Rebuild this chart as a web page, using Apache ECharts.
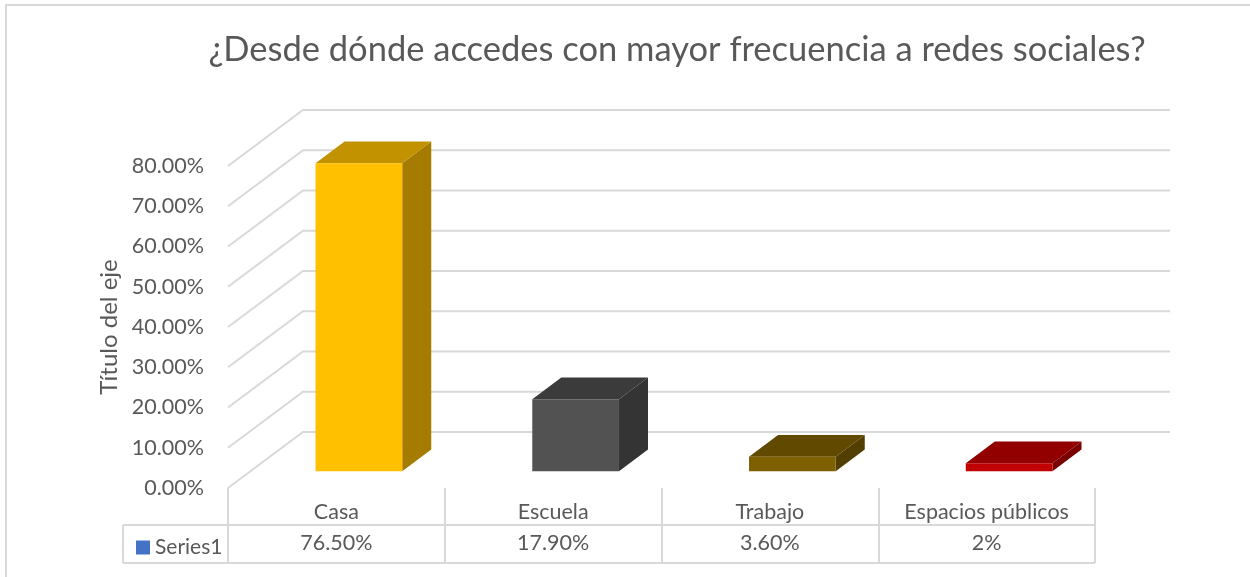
<!DOCTYPE html>
<html>
<head>
<meta charset="utf-8">
<script src="https://cdn.jsdelivr.net/npm/echarts@6/dist/echarts.min.js"></script>
<style>html,body{margin:0;padding:0;background:#fff}#c{width:1250px;height:577px}</style>
</head>
<body>
<div id="c"></div>
<script>
// ---- data ----
const categories = ['Casa', 'Escuela', 'Trabajo', 'Espacios públicos'];
const values = [76.5, 17.9, 3.6, 2];
const valueLabels = ['76.50%', '17.90%', '3.60%', '2%'];
const yTicks = [0, 10, 20, 30, 40, 50, 60, 70, 80];
const seriesName = 'Series1';

// ---- styles ----
const frontColors = ['#FFC000', '#525252', '#7F6000', '#C00000'];
const topColors   = ['#C29200', '#3B3B3B', '#614900', '#920000'];
const sideColors  = ['#A67C00', '#343434', '#523E00', '#7B0000'];
const DX = 75, DY = -56;          // floor depth vector (px)
const F0 = 0.30, F1 = 0.687;      // bar front/back depth fractions
const TXT = '#595959', LINE = '#D9D9D9';
const FONT = 'Lato';
const LBL = 21.5;

const chart = echarts.init(document.getElementById('c'));

const option = {
  animation: false,
  backgroundColor: '#fff',
  textStyle: { fontFamily: FONT },
  title: {
    text: '¿Desde dónde accedes con mayor frecuencia a redes sociales?',
    left: 672, top: 27, textAlign: 'center',
    textStyle: { fontFamily: FONT, fontSize: 34.5, fontWeight: 'normal', color: TXT }
  },
  legend: {
    data: [{ name: seriesName, icon: 'rect', itemStyle: { color: '#4472C4' } }],
    left: 131, top: 532, itemWidth: 14, itemHeight: 14, itemGap: 5,
    textStyle: { fontFamily: FONT, fontSize: 21, color: TXT, padding: [0, 0, 0, 0] },
    selectedMode: false
  },
  grid: { left: 228, right: 155, top: 166, bottom: 89, containLabel: false },
  xAxis: [{
    type: 'category', data: categories, position: 'bottom',
    axisLine: { show: false },
    axisTick: { show: true, length: 75, interval: 0, lineStyle: { color: LINE, width: 2 } },
    axisLabel: { fontFamily: FONT, fontSize: LBL, color: TXT, margin: 13, interval: 0 },
    splitLine: { show: false }
  }, {
    type: 'category', data: valueLabels, position: 'bottom', offset: 37,
    axisLine: { show: false }, axisTick: { show: false },
    axisLabel: { fontFamily: FONT, fontSize: LBL, color: TXT, margin: 7, interval: 0 },
    splitLine: { show: false }
  }],
  yAxis: {
    type: 'value', min: 0, max: 80, interval: 10,
    name: 'Título del eje', nameLocation: 'middle', nameRotate: 90, nameGap: 107,
    nameMoveOverlap: false,
    nameTextStyle: { fontFamily: FONT, fontSize: 24, color: TXT },
    axisLine: { show: false }, axisTick: { show: false }, splitLine: { show: false },
    axisLabel: { fontFamily: FONT, fontSize: LBL, color: TXT, margin: 24,
      formatter: v => v.toFixed(2) + '%' }
  },
  graphic: [
    { type: 'rect', shape: { x: 6, y: 5, width: 1270, height: 620 },
      style: { fill: 'none', stroke: LINE, lineWidth: 2 }, silent: true, z: -10 },
    { type: 'line', shape: { x1: 123, y1: 525, x2: 1095, y2: 525 },
      style: { stroke: LINE, lineWidth: 2 }, silent: true },
    { type: 'line', shape: { x1: 123, y1: 563, x2: 1095, y2: 563 },
      style: { stroke: LINE, lineWidth: 2 }, silent: true },
    { type: 'line', shape: { x1: 123, y1: 525, x2: 123, y2: 563 },
      style: { stroke: LINE, lineWidth: 2 }, silent: true }
  ],
  series: [{
    type: 'custom', name: 'walls', silent: true, z: 1,
    data: yTicks.map(v => [0, v]),
    renderItem: function (params, api) {
      const cs = params.coordSys;
      const y = api.coord([0, api.value(1)])[1];
      const x0 = cs.x, x1 = cs.x + cs.width;
      return {
        type: 'polyline',
        shape: { points: [[x0, y], [x0 + DX, y + DY], [x1 + DX, y + DY]] },
        style: { stroke: LINE, lineWidth: 2, fill: 'none' }
      };
    }
  }, {
    type: 'custom', name: seriesName, z: 2,
    itemStyle: { color: '#4472C4' },
    data: values.map((v, i) => [i, v]),
    renderItem: function (params, api) {
      const i = api.value(0);
      const base = api.coord([i, 0]);
      const top = api.coord([i, api.value(1)]);
      const w = api.size([1, 0])[0] * 0.4;
      const fx = DX * F0, fy = DY * F0, bx = DX * F1, by = DY * F1;
      const L = base[0] - w / 2 + fx, R = base[0] + w / 2 + fx;
      const T = top[1] + fy, B = base[1] + fy;
      const ddx = bx - fx, ddy = by - fy;
      return {
        type: 'group',
        children: [
          { type: 'polygon', shape: { points: [[R, T], [R + ddx, T + ddy], [R + ddx, B + ddy], [R, B]] },
            style: { fill: sideColors[i] } },
          { type: 'polygon', shape: { points: [[L, T], [R, T], [R + ddx, T + ddy], [L + ddx, T + ddy]] },
            style: { fill: topColors[i] } },
          { type: 'rect', shape: { x: L, y: T, width: R - L, height: B - T },
            style: { fill: frontColors[i] } }
        ]
      };
    }
  }]
};
chart.setOption(option);
</script>
</body>
</html>
